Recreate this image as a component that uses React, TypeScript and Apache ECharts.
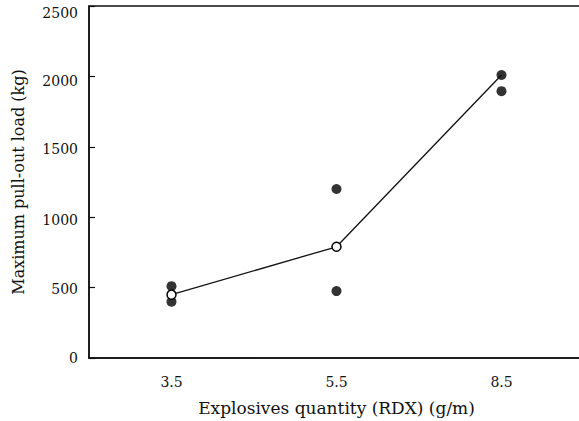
import React, { useEffect, useRef } from "react";
import * as echarts from "echarts";

const categories = ["3.5", "5.5", "8.5"];
const yTicks = [0, 500, 1000, 1500, 2000, 2500];
const individualPoints: [string, number][] = [
  ["3.5", 510],
  ["3.5", 400],
  ["5.5", 1200],
  ["5.5", 475],
  ["8.5", 2010],
  ["8.5", 1895],
];
const meanValues = [450, 790, 2010];

const FONT = "DejaVu Serif";

const labelShift: Record<number, number> = { 0: 0, 500: 1, 1000: 3, 1500: 2, 2000: 5, 2500: 7 };

export default function App() {
  const ref = useRef<HTMLDivElement>(null);
  useEffect(() => {
    document.body.style.margin = "0";
    const chart = echarts.init(ref.current!, undefined, { renderer: "svg" });
    const rich: Record<string, any> = {};
    yTicks.forEach((v) => {
      rich["s" + v] = {
        fontFamily: FONT,
        fontSize: 14,
        color: "#111",
        padding: [2 * (labelShift[v] || 0), 0, 0, 0],
      };
    });
    chart.setOption({
      animation: false,
      backgroundColor: "#fff",
      grid: {
        left: 89,
        width: 495,
        top: 6,
        height: 352,
        outerBoundsMode: "none",
        containLabel: false,
        show: true,
        borderColor: "#111",
        borderWidth: 1.5,
        backgroundColor: "transparent",
      },
      xAxis: {
        type: "category",
        data: categories,
        boundaryGap: true,
        name: "Explosives quantity (RDX) (g/m)",
        nameLocation: "middle",
        nameGap: 41,
        nameTextStyle: { fontFamily: FONT, fontSize: 17, color: "#111" },
        axisLine: { lineStyle: { color: "#111", width: 1.5 } },
        axisTick: { inside: true, length: 6, lineStyle: { color: "#111", width: 1.2 } },
        axisLabel: { fontFamily: FONT, fontSize: 14, color: "#111", margin: 17 },
        splitLine: { show: false },
      },
      yAxis: {
        type: "value",
        min: 0,
        max: 2500,
        interval: 500,
        name: "Maximum pull-out load (kg)",
        nameLocation: "middle",
        nameGap: 63,
        nameRotate: 90,
        nameTextStyle: { fontFamily: FONT, fontSize: 16, color: "#111" },
        axisLine: { show: true, lineStyle: { color: "#111", width: 1.5 } },
        axisTick: { show: true, inside: true, length: 6, lineStyle: { color: "#111", width: 1.2 } },
        axisLabel: {
          fontFamily: FONT,
          fontSize: 14,
          color: "#111",
          margin: 11,
          formatter: (v: number) => (yTicks.includes(v) ? `{s${v}|${v}}` : ""),
          rich,
        },
        splitLine: { show: false },
      },
      series: [
        {
          type: "scatter",
          data: individualPoints,
          symbol: "circle",
          symbolSize: 10,
          itemStyle: { color: "#000" },
          z: 2,
        },
        {
          type: "line",
          data: meanValues.map((v, i) =>
            i === meanValues.length - 1 ? { value: v, symbol: "none" } : v
          ),
          symbol: "circle",
          symbolSize: 9,
          showSymbol: true,
          lineStyle: { color: "#111", width: 1.3 },
          itemStyle: { color: "#fff", borderColor: "#000", borderWidth: 1.5 },
          z: 3,
        },
      ],
    });
    return () => chart.dispose();
  }, []);
  return (
    <div
      ref={ref}
      style={{ position: "fixed", left: 0, top: 0, width: 579, height: 421 }}
    />
  );
}
